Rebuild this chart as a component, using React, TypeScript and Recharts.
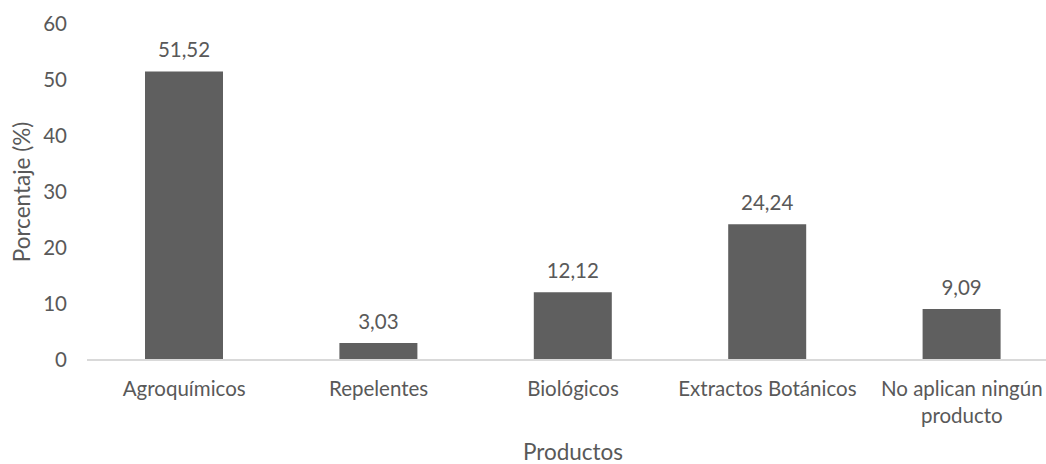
import { Bar, BarChart, LabelList, XAxis, YAxis } from "recharts";

const categories = [
  "Agroquímicos",
  "Repelentes",
  "Biológicos",
  "Extractos Botánicos",
  "No aplican ningún producto",
];
const percentages = [51.52, 3.03, 12.12, 24.24, 9.09];
const yTicks = [0, 10, 20, 30, 40, 50, 60];

// long category names break onto two lines
const wrapped: Record<string, string[]> = {
  "No aplican ningún producto": ["No aplican ningún", "producto"],
};

const rows = categories.map((name, i) => ({ name, value: percentages[i] }));

const FONT = "Lato, 'Open Sans', sans-serif";
const TEXT = "#595959";
const fmt = (v: number) => v.toFixed(2).replace(".", ",");

function CategoryTick({ x, y, payload }: any) {
  const lines = wrapped[payload.value] ?? [payload.value];
  return (
    <text x={x} y={y} textAnchor="middle" fill={TEXT} fontSize={20.5} fontFamily={FONT}>
      {lines.map((l, i) => (
        <tspan key={i} x={x} dy={i === 0 ? 28 : 27}>
          {l}
        </tspan>
      ))}
    </text>
  );
}

export default function App() {
  return (
    <div style={{ position: "absolute", left: 0, top: 0, width: 1046, height: 464, overflow: "hidden", background: "#fff" }}>
      <BarChart
        width={1070}
        height={464}
        data={rows}
        margin={{ top: 24, right: 11, left: 0, bottom: 0 }}
      >
        <XAxis
          dataKey="name"
          height={104}
          tick={<CategoryTick />}
          tickLine={false}
          axisLine={{ stroke: "#d9d9d9", strokeWidth: 2 }}
          interval={0}
          label={{ value: "Productos", position: "insideBottom", offset: 4, fill: TEXT, fontSize: 22.5, fontFamily: FONT }}
        />
        <YAxis
          width={87}
          domain={[0, 60]}
          ticks={yTicks}
          axisLine={false}
          tickLine={false}
          tickMargin={14}
          tick={{ fill: TEXT, fontSize: 20.5, fontFamily: FONT }}
          label={{ value: "Porcentaje (%)", angle: -90, position: "insideLeft", offset: 22, fill: TEXT, fontSize: 22.5, fontFamily: FONT, style: { textAnchor: "middle" } }}
        />
        <Bar dataKey="value" fill="#5f5f5f" barSize={78} isAnimationActive={false}>
          <LabelList dataKey="value" position="top" offset={14} formatter={fmt} fill={TEXT} fontSize={20.5} fontFamily={FONT} />
        </Bar>
      </BarChart>
    </div>
  );
}
